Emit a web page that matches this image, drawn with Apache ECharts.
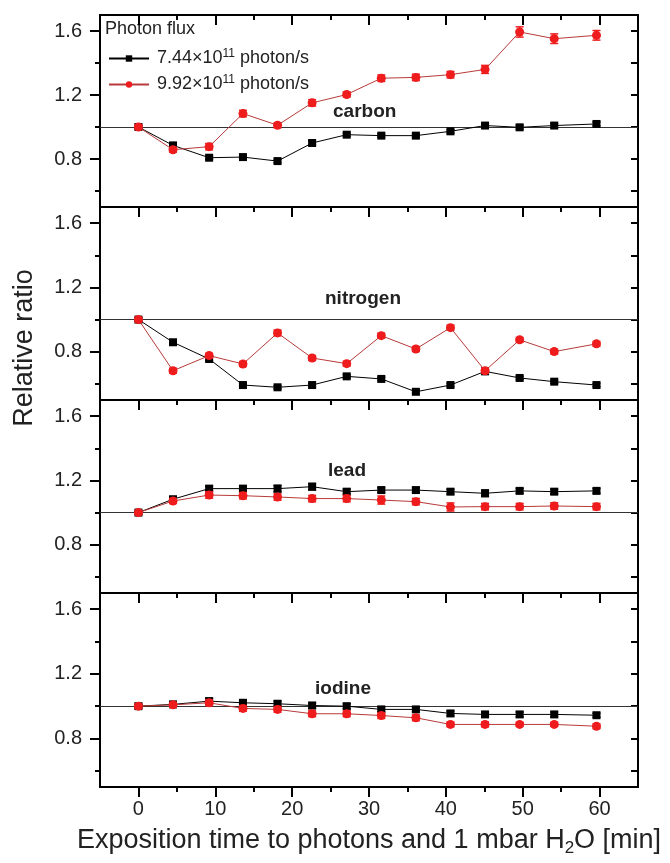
<!DOCTYPE html>
<html>
<head>
<meta charset="utf-8">
<script src="https://cdn.jsdelivr.net/npm/echarts@6/dist/echarts.min.js"></script>
<style>
  html, body { margin: 0; background: #fff; }
  #chart { width: 670px; height: 863px; }
</style>
</head>
<body>
<div id="chart"></div>
<script>
// exposure times (min)
const times = [0, 4.5, 9.2, 13.6, 18.1, 22.6, 27.1, 31.6, 36.1, 40.6, 45.1, 49.6, 54.1, 59.6];

const panelNames = ['carbon', 'nitrogen', 'lead', 'iodine'];

// 7.44e11 photon/s (black)
const carbonLow = [1.0, 0.885, 0.808, 0.812, 0.787, 0.90, 0.952, 0.946, 0.946, 0.973, 1.009, 0.998, 1.009, 1.019];
const nitrogenLow = [1.0, 0.859, 0.755, 0.593, 0.579, 0.593, 0.647, 0.631, 0.551, 0.593, 0.678, 0.637, 0.614, 0.593];
const leadLow = [1.0, 1.083, 1.149, 1.149, 1.149, 1.161, 1.130, 1.140, 1.140, 1.130, 1.120, 1.135, 1.130, 1.135];
const iodineLow = [1.0, 1.011, 1.031, 1.021, 1.015, 1.004, 1.0, 0.980, 0.980, 0.955, 0.949, 0.949, 0.949, 0.944];

// 9.92e11 photon/s (red)
const carbonHigh = [1.0, 0.858, 0.877, 1.084, 1.011, 1.151, 1.203, 1.305, 1.310, 1.327, 1.360, 1.594, 1.552, 1.573];
const nitrogenHigh = [1.0, 0.682, 0.776, 0.724, 0.917, 0.761, 0.726, 0.900, 0.817, 0.950, 0.682, 0.874, 0.801, 0.849];
const leadHigh = [1.0, 1.072, 1.109, 1.105, 1.097, 1.087, 1.087, 1.078, 1.068, 1.035, 1.037, 1.037, 1.041, 1.037];
const iodineHigh = [1.0, 1.008, 1.021, 0.986, 0.980, 0.953, 0.953, 0.942, 0.928, 0.887, 0.887, 0.887, 0.887, 0.876];

// error bars (half widths)
const carbonLowErr = [0.01, 0.012, 0.01, 0.01, 0.01, 0.012, 0.01, 0.01, 0.01, 0.01, 0.012, 0.012, 0.012, 0.012];
const carbonHighErr = [0.012, 0.015, 0.02, 0.02, 0.015, 0.02, 0.015, 0.02, 0.02, 0.02, 0.025, 0.032, 0.03, 0.03];
const nitrogenLowErr = [0.01, 0.01, 0.01, 0.01, 0.01, 0.01, 0.01, 0.01, 0.01, 0.01, 0.01, 0.01, 0.01, 0.01];
const nitrogenHighErr = [0.015, 0.015, 0.015, 0.015, 0.018, 0.015, 0.015, 0.015, 0.015, 0.015, 0.015, 0.015, 0.015, 0.015];
const leadLowErr = [0.01, 0.012, 0.015, 0.015, 0.02, 0.02, 0.015, 0.015, 0.015, 0.015, 0.02, 0.015, 0.015, 0.015];
const leadHighErr = [0.012, 0.015, 0.02, 0.02, 0.02, 0.02, 0.02, 0.025, 0.02, 0.025, 0.02, 0.02, 0.02, 0.02];
const iodineLowErr = [0.012, 0.012, 0.018, 0.015, 0.015, 0.018, 0.015, 0.015, 0.015, 0.015, 0.015, 0.015, 0.015, 0.012];
const iodineHighErr = [0.015, 0.015, 0.018, 0.018, 0.018, 0.018, 0.018, 0.018, 0.018, 0.015, 0.015, 0.012, 0.012, 0.015];

const xMajorTicks = [0, 10, 20, 30, 40, 50, 60];
const xMinorTicks = [5, 15, 25, 35, 45, 55];
const yMajorTicks = [0.8, 1.2, 1.6];
const yMinorTicks = [0.6, 1.0, 1.4];
const yAllTicks = [0.6, 0.8, 1.0, 1.2, 1.4, 1.6];

const lowSeries = [carbonLow, nitrogenLow, leadLow, iodineLow];
const highSeries = [carbonHigh, nitrogenHigh, leadHigh, iodineHigh];
const lowErrs = [carbonLowErr, nitrogenLowErr, leadLowErr, iodineLowErr];
const highErrs = [carbonHighErr, nitrogenHighErr, leadHighErr, iodineHighErr];

const gridTops = [15, 207, 400, 593];
const gridHeights = [192, 193, 193, 194];
const labelPos = [[333, 113], [325, 300], [328, 472], [315, 690]];

const RED = '#ee1c1c';
const RED_LINE = '#b83a3a';
const FONT = 'Arial, "Liberation Sans", sans-serif';

const chart = echarts.init(document.getElementById('chart'));

const grids = [];
const xAxes = [];
const yAxes = [];
const series = [];

function errorBars(name, color, xIdx, yIdx, vals, errs) {
  return {
    name: name,
    type: 'custom',
    xAxisIndex: xIdx,
    yAxisIndex: yIdx,
    z: 3,
    silent: true,
    data: times.map((t, i) => [t, vals[i], errs[i]]),
    encode: { x: 0, y: 1 },
    renderItem: (params, api) => {
      const x = api.value(0);
      const y = api.value(1);
      const e = api.value(2);
      const top = api.coord([x, y + e]);
      const bot = api.coord([x, y - e]);
      const w = 4;
      const st = { stroke: color, lineWidth: 1.5 };
      return {
        type: 'group',
        children: [
          { type: 'line', shape: { x1: top[0], y1: top[1], x2: bot[0], y2: bot[1] }, style: st },
          { type: 'line', shape: { x1: top[0] - w, y1: top[1], x2: top[0] + w, y2: top[1] }, style: st },
          { type: 'line', shape: { x1: bot[0] - w, y1: bot[1], x2: bot[0] + w, y2: bot[1] }, style: st },
        ],
      };
    },
  };
}

function tick(len, inside, values) {
  return {
    show: true, inside: inside, length: len,
    lineStyle: { color: '#000', width: 2 },
    customValues: values,
  };
}

panelNames.forEach((p, i) => {
  const last = i === panelNames.length - 1;
  grids.push({
    left: 100,
    right: 32,
    top: gridTops[i],
    height: gridHeights[i],
    show: true,
    borderColor: '#000',
    borderWidth: 2,
    backgroundColor: 'transparent',
  });

  const xBase = {
    gridIndex: i,
    type: 'value',
    min: -5,
    max: 65,
    splitLine: { show: false },
    axisLine: { show: false, onZero: false },
  };
  // main x (bottom)
  xAxes.push({
    ...xBase,
    position: 'bottom',
    axisTick: last ? tick(10, false, xMajorTicks) : { show: false },
    axisLabel: last
      ? { show: true, customValues: xMajorTicks, margin: 12, fontSize: 20, color: '#222', fontFamily: FONT }
      : { show: false },
    name: last ? 'Exposition time to photons and 1 mbar H{sub|2}O [min]' : '',
    nameLocation: 'middle',
    nameGap: 38,
    nameTextStyle: {
      fontSize: 27,
      color: '#222',
      fontFamily: FONT,
      lineHeight: 32,
      rich: { sub: { fontSize: 17, verticalAlign: 'bottom', lineHeight: 14, fontFamily: FONT, color: '#222' } },
    },
  });
  // bottom minor
  xAxes.push({
    ...xBase,
    position: 'bottom',
    show: last,
    axisTick: tick(5, false, xMinorTicks),
    axisLabel: { show: false },
  });
  // top major
  xAxes.push({
    ...xBase,
    position: 'top',
    axisTick: tick(10, true, xMajorTicks),
    axisLabel: { show: false },
  });
  // top minor
  xAxes.push({
    ...xBase,
    position: 'top',
    axisTick: tick(5, true, xMinorTicks),
    axisLabel: { show: false },
  });

  const yBase = {
    gridIndex: i,
    type: 'value',
    min: 0.5,
    max: 1.7,
    splitLine: { show: false },
    axisLine: { show: false, onZero: false },
  };
  yAxes.push({
    ...yBase,
    position: 'left',
    axisTick: tick(10, false, yMajorTicks),
    axisLabel: {
      show: true, customValues: yMajorTicks, margin: 18, fontSize: 20, color: '#222', fontFamily: FONT,
      formatter: (v) => v.toFixed(1),
    },
  });
  yAxes.push({
    ...yBase,
    position: 'left',
    axisTick: tick(5, false, yMinorTicks),
    axisLabel: { show: false },
  });
  yAxes.push({
    ...yBase,
    position: 'right',
    axisTick: tick(7, true, yAllTicks),
    axisLabel: { show: false },
  });

  const xi = i * 4;
  const yi = i * 3;
  series.push({
    name: 'low',
    type: 'line',
    xAxisIndex: xi,
    yAxisIndex: yi,
    data: times.map((t, k) => [t, lowSeries[i][k]]),
    symbol: 'rect',
    symbolSize: 8,
    itemStyle: { color: '#000' },
    lineStyle: { color: '#000', width: 1 },
    z: 2,
    markLine: {
      silent: true,
      symbol: ['none', 'none'],
      label: { show: false },
      lineStyle: { color: '#333', width: 1, type: 'solid' },
      data: [{ yAxis: 1.0 }],
      z: 1,
    },
  });
  series.push(errorBars('lowErr', '#000', xi, yi, lowSeries[i], lowErrs[i]));
  series.push({
    name: 'high',
    type: 'line',
    xAxisIndex: xi,
    yAxisIndex: yi,
    data: times.map((t, k) => [t, highSeries[i][k]]),
    symbol: 'circle',
    symbolSize: 9,
    itemStyle: { color: RED },
    lineStyle: { color: RED_LINE, width: 1 },
    z: 4,
  });
  series.push(errorBars('highErr', RED, xi, yi, highSeries[i], highErrs[i]));
});

const legendLabels = {
  low: '7.44×10{sup|11} photon/s',
  high: '9.92×10{sup|11} photon/s',
};

const graphics = panelNames.map((p, i) => ({
  type: 'text',
  left: labelPos[i][0],
  top: labelPos[i][1] - 11,
  style: { text: p, font: 'bold 19px ' + FONT, fill: '#222' },
}));
graphics.push({
  type: 'text',
  left: 105,
  top: 20,
  style: { text: 'Photon flux', font: '18px ' + FONT, fill: '#222' },
});
graphics.push({
  type: 'text',
  x: 25,
  y: 348,
  rotation: Math.PI / 2,
  style: {
    text: 'Relative ratio',
    font: '27px ' + FONT,
    fill: '#222',
    textAlign: 'center',
    textVerticalAlign: 'middle',
  },
});

chart.setOption({
  animation: false,
  backgroundColor: '#fff',
  grid: grids,
  xAxis: xAxes,
  yAxis: yAxes,
  legend: {
    data: ['low', 'high'],
    orient: 'vertical',
    left: 103,
    top: 43,
    itemWidth: 40,
    itemHeight: 8,
    itemGap: 5,
    formatter: (name) => legendLabels[name],
    textStyle: {
      fontSize: 18,
      color: '#222',
      fontFamily: FONT,
      lineHeight: 21,
      padding: [0, 0, 0, 3],
      rich: { sup: { fontSize: 12, verticalAlign: 'top', lineHeight: 12, fontFamily: FONT, color: '#222' } },
    },
  },
  graphic: graphics,
  series: series,
});
</script>
</body>
</html>
